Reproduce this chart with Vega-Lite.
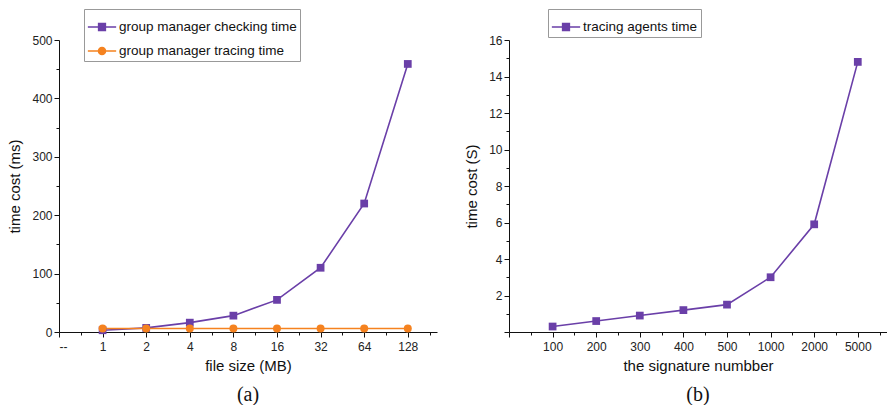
{
  "$schema": "https://vega.github.io/schema/vega-lite/v6.json",
  "background": "white",
  "padding": {"left": 7, "top": 8, "right": 0, "bottom": 0},
  "spacing": 27,
  "config": {
    "view": {"stroke": null},
    "axis": {
      "grid": false,
      "domainColor": "#111",
      "tickColor": "#111",
      "labelFont": "Liberation Sans",
      "labelFontSize": 12,
      "labelColor": "#222",
      "titleFont": "Liberation Sans",
      "titleFontSize": 15,
      "titleFontWeight": "normal",
      "titleColor": "#111"
    },
    "legend": {
      "strokeColor": "#999",
      "padding": 3,
      "labelFont": "Liberation Sans",
      "labelFontSize": 13.5,
      "labelColor": "#111",
      "labelLimit": 0,
      "symbolSize": 800,
      "symbolStrokeWidth": 1.5,
      "rowPadding": 2,
      "labelOffset": 2,
      "title": null
    },
    "title": {"font": "Liberation Serif", "fontSize": 20, "fontWeight": "normal", "color": "#111"}
  },
  "hconcat": [
    {
      "width": 378,
      "height": 292,
      "title": {"text": "(a)", "orient": "bottom", "offset": 12},
      "data": {"values": [
        {"idx": 1, "size": "1", "series": "group manager checking time", "value": 3},
        {"idx": 2, "size": "2", "series": "group manager checking time", "value": 7},
        {"idx": 3, "size": "4", "series": "group manager checking time", "value": 16},
        {"idx": 4, "size": "8", "series": "group manager checking time", "value": 28},
        {"idx": 5, "size": "16", "series": "group manager checking time", "value": 55},
        {"idx": 6, "size": "32", "series": "group manager checking time", "value": 110},
        {"idx": 7, "size": "64", "series": "group manager checking time", "value": 220},
        {"idx": 8, "size": "128", "series": "group manager checking time", "value": 459},
        {"idx": 1, "size": "1", "series": "group manager tracing time", "value": 6},
        {"idx": 2, "size": "2", "series": "group manager tracing time", "value": 6},
        {"idx": 3, "size": "4", "series": "group manager tracing time", "value": 6},
        {"idx": 4, "size": "8", "series": "group manager tracing time", "value": 6},
        {"idx": 5, "size": "16", "series": "group manager tracing time", "value": 6},
        {"idx": 6, "size": "32", "series": "group manager tracing time", "value": 6},
        {"idx": 7, "size": "64", "series": "group manager tracing time", "value": 6},
        {"idx": 8, "size": "128", "series": "group manager tracing time", "value": 6}
      ]},
      "encoding": {
        "x": {
          "field": "idx", "type": "quantitative",
          "scale": {"domain": [0, 8.67], "nice": false, "zero": false},
          "axis": {
            "title": "file size (MB)",
            "values": [0, 0.5, 1, 1.5, 2, 2.5, 3, 3.5, 4, 4.5, 5, 5.5, 6, 6.5, 7, 7.5, 8, 8.5],
            "labelExpr": "datum.value === 0 ? '--' : (datum.value % 1 === 0 ? format(pow(2, datum.value - 1), 'd') : '')",
            "tickSize": {"condition": {"test": "datum.value % 1 === 0", "value": 5}, "value": 3},
            "labelPadding": 4,
            "titlePadding": 6
          }
        },
        "y": {
          "field": "value", "type": "quantitative",
          "scale": {"domain": [0, 500], "nice": false},
          "axis": {
            "title": "time cost (ms)",
            "values": [0, 50, 100, 150, 200, 250, 300, 350, 400, 450, 500],
            "labelExpr": "datum.value % 100 === 0 ? datum.label : ''",
            "tickSize": {"condition": {"test": "datum.value % 100 === 0", "value": 5}, "value": 3},
            "labelPadding": 2,
            "titlePadding": 9
          }
        },
        "color": {
          "field": "series", "type": "nominal",
          "scale": {"domain": ["group manager checking time", "group manager tracing time"], "range": ["#6a3fa8", "#f5821f"]},
          "legend": {
            "orient": "none", "legendX": 25, "legendY": -31,
            "encode": {"symbols": {"update": {
              "shape": {"signal": "datum.value === 'group manager checking time' ? 'M-1,0H1M-0.24,-0.24H0.24V0.24H-0.24Z' : 'M-1,0H1M0.25,0A0.25,0.25 0 1,1 -0.25,0A0.25,0.25 0 1,1 0.25,0Z'"},
              "fill": {"signal": "datum.value === 'group manager checking time' ? '#6a3fa8' : '#f5821f'"},
              "stroke": {"signal": "datum.value === 'group manager checking time' ? '#6a3fa8' : '#f5821f'"},
              "opacity": {"value": 1}
            }}}
          }
        }
      },
      "layer": [
        {"mark": {"type": "line", "strokeWidth": 1.6}},
        {"transform": [{"filter": "datum.series === 'group manager checking time'"}],
         "mark": {"type": "point", "filled": true, "opacity": 1, "size": 60, "shape": "square"}},
        {"transform": [{"filter": "datum.series === 'group manager tracing time'"}],
         "mark": {"type": "point", "filled": true, "opacity": 1, "size": 64, "shape": "circle"}}
      ]
    },
    {
      "width": 378,
      "height": 292,
      "title": {"text": "(b)", "orient": "bottom", "offset": 12},
      "data": {"values": [
        {"idx": 1, "n": "100", "series": "tracing agents time", "value": 0.3},
        {"idx": 2, "n": "200", "series": "tracing agents time", "value": 0.6},
        {"idx": 3, "n": "300", "series": "tracing agents time", "value": 0.9},
        {"idx": 4, "n": "400", "series": "tracing agents time", "value": 1.2},
        {"idx": 5, "n": "500", "series": "tracing agents time", "value": 1.5},
        {"idx": 6, "n": "1000", "series": "tracing agents time", "value": 3.0},
        {"idx": 7, "n": "2000", "series": "tracing agents time", "value": 5.9},
        {"idx": 8, "n": "5000", "series": "tracing agents time", "value": 14.8}
      ]},
      "encoding": {
        "x": {
          "field": "idx", "type": "quantitative",
          "scale": {"domain": [0, 8.67], "nice": false, "zero": false},
          "axis": {
            "title": "the signature numbber",
            "values": [0, 0.5, 1, 1.5, 2, 2.5, 3, 3.5, 4, 4.5, 5, 5.5, 6, 6.5, 7, 7.5, 8, 8.5],
            "labelExpr": "datum.value % 1 === 0 && datum.value > 0 ? ['', '100', '200', '300', '400', '500', '1000', '2000', '5000'][datum.value] : ''",
            "tickSize": {"condition": {"test": "datum.value % 1 === 0", "value": 5}, "value": 3},
            "labelPadding": 4,
            "titlePadding": 6
          }
        },
        "y": {
          "field": "value", "type": "quantitative",
          "scale": {"domain": [0, 16], "nice": false},
          "axis": {
            "title": "time cost (S)",
            "values": [0, 1, 2, 3, 4, 5, 6, 7, 8, 9, 10, 11, 12, 13, 14, 15, 16],
            "labelExpr": "datum.value % 2 === 0 && datum.value > 0 ? datum.label : ''",
            "tickSize": {"condition": {"test": "datum.value % 2 === 0", "value": 5}, "value": 3},
            "labelPadding": 2,
            "titlePadding": 9
          }
        },
        "color": {
          "field": "series", "type": "nominal",
          "scale": {"domain": ["tracing agents time"], "range": ["#6a3fa8"]},
          "legend": {
            "orient": "none", "legendX": 39, "legendY": -31,
            "encode": {"symbols": {"update": {
              "shape": {"value": "M-1,0H1M-0.24,-0.24H0.24V0.24H-0.24Z"},
              "fill": {"value": "#6a3fa8"},
              "stroke": {"value": "#6a3fa8"},
              "opacity": {"value": 1}
            }}}
          }
        }
      },
      "layer": [
        {"mark": {"type": "line", "strokeWidth": 1.6}},
        {"mark": {"type": "point", "filled": true, "opacity": 1, "size": 60, "shape": "square"}}
      ]
    }
  ],
  "resolve": {"scale": {"color": "independent"}, "legend": {"color": "independent"}}
}
